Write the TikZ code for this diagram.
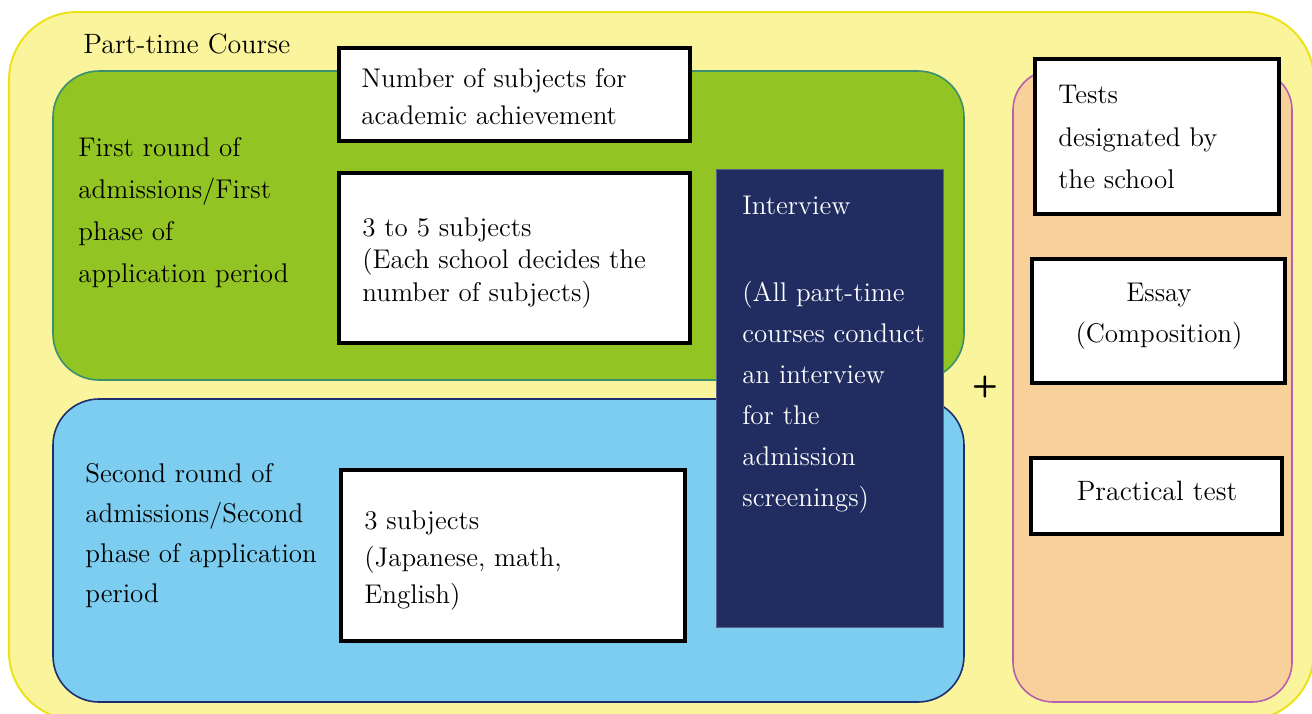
\documentclass[tikz,border=0pt]{standalone}
\usepackage{tikz}
\usetikzlibrary{fit,positioning}
\definecolor{coursefill}{HTML}{FAF59C}
\definecolor{courseline}{HTML}{EDE21A}
\definecolor{firstfill}{HTML}{92C423}
\definecolor{firstline}{HTML}{3A8F6F}
\definecolor{secondfill}{HTML}{7DCDF0}
\definecolor{secondline}{HTML}{1F2E6E}
\definecolor{interfill}{HTML}{212C61}
\definecolor{schoolfill}{HTML}{F8D09A}
\definecolor{schoolline}{HTML}{B660B0}
\tikzset{
  panel/.style={draw,rounded corners=23pt,inner sep=0pt,line width=0.8pt},
  subjbox/.style={draw=black,fill=white,line width=1.6pt,inner sep=0pt},
  blocktext/.style={align=left,inner sep=0pt,anchor=north west,font=\fontsize{13.5}{#1}\selectfont},
  blocktext/.default=21pt
}

\begin{document}
\begin{tikzpicture}[x=0.5pt,y=-0.5pt]
  \useasboundingbox (0,0) rectangle (1312,713);
  \clip (0,0) rectangle (1312,713);

  % --- Background panels ---
  \node[panel,fill=coursefill,draw=courseline,line width=1pt,rounded corners=34pt,
        fit={(9,12) (1314,720)}] (course) {};
  \node[panel,fill=firstfill,draw=firstline,fit={(53,71) (964,380)}] (first) {};
  \node[panel,fill=secondfill,draw=secondline,fit={(53,399) (964,702)}] (second) {};
  \node[panel,fill=schoolfill,draw=schoolline,rounded corners=20pt,
        fit={(1013,70) (1292,702)}] (school) {};

  % --- Subject boxes ---
  \node[subjbox,fit={(339,48) (690,141)}]  (numbox)   {};
  \node[subjbox,fit={(339,173) (690,343)}] (firstbox)  {};
  \node[subjbox,fit={(341,470) (685,641)}] (secondbox) {};
  \node[draw=interfill!75!white,fill=interfill,line width=0.4pt,inner sep=0pt,
        fit={(716,169) (943,627)}] (interview) {};

  % --- Tests designated by the school ---
  \node[subjbox,fit={(1035,59) (1279,214)}]  (testbox)      {};
  \node[subjbox,fit={(1032,259) (1285,383)}] (essaybox)     {};
  \node[subjbox,fit={(1031,458) (1282,534)}] (practicalbox) {};

  % --- Texts ---
  \node[font=\fontsize{14}{17}\selectfont,anchor=base west,inner sep=0pt] (coursetxt) at (83,53) {Part-time Course};
  \node[blocktext=21pt] (firsttxt)  at (78,137)  {First round of\\admissions/First\\phase of\\application period};
  \node[blocktext=20pt] (secondtxt) at (85,463)  {Second round of\\admissions/Second\\phase of application\\period};
  \node[blocktext=18.5pt] (numtxt)  at (361,68)  {Number of subjects for\\academic achievement};
  \node[blocktext=16.3pt] (firstsubj)  at (362,217) {3 to 5 subjects\\(Each school decides the\\number of subjects)};
  \node[blocktext=18.7pt] (secondsubj) at (364,510) {3 subjects\\(Japanese, math,\\English)};
  \node[blocktext=20.5pt,text=white] (intertxt) at (742,196)
    {Interview\\[23pt](All part-time\\courses conduct\\an interview\\for the\\admission\\screenings)};
  \node[blocktext=21.2pt] (testtxt) at (1058,85) {Tests\\designated by\\the school};
  \node[blocktext=20.5pt,align=center,anchor=north] (essaytxt) at (1159,283) {Essay\\(Composition)};
  \node[font=\fontsize{14}{17}\selectfont,anchor=base,inner sep=0pt] (practicaltxt) at (1157,500) {Practical test};
  \node[font=\fontsize{15}{18}\sffamily\bfseries,inner sep=0pt] (plus) at (985,387) {+};
\end{tikzpicture}
\end{document}
